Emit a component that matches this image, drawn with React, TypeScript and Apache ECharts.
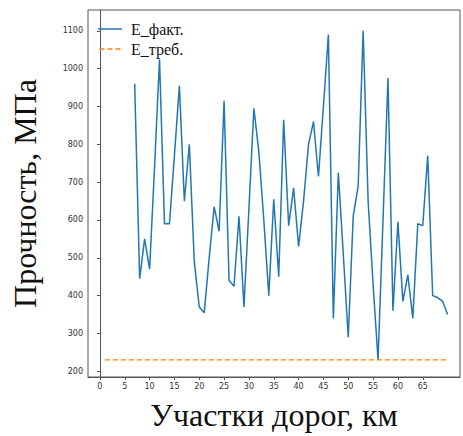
import React, { useEffect, useRef } from "react";
import * as echarts from "echarts";

const xValues: number[] = Array.from({ length: 70 }, (_, i) => i + 1);
// E_факт: no data for sections 1..6
const eFact: (number | null)[] = [
  null, null, null, null, null, null,
  960, 445, 550, 470, 740, 1025, 590, 590, 770, 955,
  650, 800, 490, 370, 355, 500, 635, 570, 915, 440,
  425, 610, 370, 630, 895, 780, 600, 400, 655, 450,
  865, 585, 685, 530, 650, 800, 860, 715, 900, 1090,
  340, 725, 510, 290, 610, 690, 1100, 650, 430, 230,
  600, 975, 360, 595, 385, 455, 340, 590, 585, 770,
  400, 395, 385, 350,
];
const eReq: number[] = xValues.map(() => 230);
const xTicks: number[] = [0, 5, 10, 15, 20, 25, 30, 35, 40, 45, 50, 55, 60, 65];
const yTicks: number[] = [200, 300, 400, 500, 600, 700, 800, 900, 1000, 1100];

const solidIcon = "path://M0,0h24v1.5h-24z";
const dashedIcon = "path://M0,0h5v1.5h-5z M8,0h5v1.5h-5z M16,0h5v1.5h-5z";

export default function App() {
  const ref = useRef<HTMLDivElement>(null);
  useEffect(() => {
    if (!ref.current) return;
    const chart = echarts.init(ref.current, undefined, { renderer: "svg" });
    const tickFont = { fontFamily: "DejaVu Sans", fontSize: 8, color: "#333" };
    chart.setOption({
      animation: false,
      backgroundColor: "#fff",
      grid: {
        left: 88,
        top: 10,
        width: 372,
        height: 368,
        show: true,
        borderColor: "#555",
        borderWidth: 1,
        backgroundColor: "transparent",
      },
      legend: {
        orient: "vertical",
        left: 93,
        top: 16,
        itemWidth: 24,
        itemHeight: 1.5,
        itemGap: 4,
        textStyle: { fontFamily: "Liberation Serif", fontSize: 16, color: "#111", padding: [0, 0, 0, 4] },
        data: [
          { name: "E_факт.", icon: solidIcon, itemStyle: { color: "#1f77b4" } },
          { name: "E_треб.", icon: dashedIcon, itemStyle: { color: "#ff7f0e" } },
        ],
      },
      xAxis: {
        type: "value",
        min: -2.4,
        max: 72.5,
        name: "Участки дорог, км",
        nameLocation: "middle",
        nameGap: 22,
        nameTextStyle: { fontFamily: "Liberation Serif", fontSize: 32, color: "#111" },
        axisLine: { show: true, lineStyle: { color: "#555" } },
        axisTick: { show: true, length: 3, lineStyle: { color: "#555" }, customValues: xTicks },
        axisLabel: { ...tickFont, margin: 5, customValues: xTicks, formatter: (v: number) => String(v) },
        splitLine: { show: false },
      },
      yAxis: {
        type: "value",
        min: 185,
        max: 1155,
        name: "Прочность, МПа",
        nameLocation: "middle",
        nameRotate: 90,
        nameGap: 47,
        nameTextStyle: { fontFamily: "Liberation Serif", fontSize: 32, color: "#111" },
        axisLine: { show: true, lineStyle: { color: "#555" } },
        axisTick: { show: true, length: 3, lineStyle: { color: "#555" }, customValues: yTicks },
        axisLabel: { ...tickFont, margin: 5, customValues: yTicks, formatter: (v: number) => String(v) },
        splitLine: { show: false },
      },
      series: [
        {
          name: "E_факт.",
          type: "line",
          data: xValues.map((x, i) => [x, eFact[i]]),
          showSymbol: false,
          symbol: "none",
          connectNulls: false,
          lineStyle: { color: "#1f77b4", width: 1.5 },
          itemStyle: { color: "#1f77b4" },
        },
        {
          name: "E_треб.",
          type: "line",
          data: xValues.map((x, i) => [x, eReq[i]]),
          showSymbol: false,
          symbol: "none",
          lineStyle: { color: "#ff7f0e", width: 1.3, type: [5, 3] },
          itemStyle: { color: "#ff7f0e" },
        },
      ],
    });
    return () => chart.dispose();
  }, []);
  return (
    <div
      ref={ref}
      style={{ position: "fixed", left: 0, top: 0, width: 463, height: 436 }}
    />
  );
}
